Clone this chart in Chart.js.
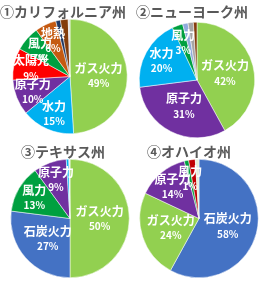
<!DOCTYPE html>
<html lang="ja">
<head>
<meta charset="UTF-8">
<title>州別の電源構成</title>
<script src="https://cdn.jsdelivr.net/npm/chart.js"></script>
<style>
  html, body { margin: 0; padding: 0; background: #fff; }
  #wrap { position: relative; width: 261px; height: 281px; overflow: hidden; }
  #wrap canvas { position: absolute; }
</style>
</head>
<body>
<div id="wrap">
  <canvas id="c1" width="140" height="134" style="left:0;top:0"></canvas>
  <canvas id="c2" width="128" height="138" style="left:133px;top:0"></canvas>
  <canvas id="c3" width="140" height="138" style="left:0;top:140px"></canvas>
  <canvas id="c4" width="124" height="138" style="left:137px;top:140px"></canvas>
</div>
<script>
  // 各州の電源構成 (%)、ラベルなしの小さい区分は '' にしている
  const caTitle = '①カリフォルニア州';
  const caLabels = ['ガス火力', '水力', '原子力', '太陽光', '風力', '地熱', '', '', ''];
  const caValues = [49, 15, 10, 9, 7, 6, 1.3, 2.2, 0.5];

  const nyTitle = '②ニューヨーク州';
  const nyLabels = ['ガス火力', '原子力', '水力', '風力', '', '', ''];
  const nyValues = [42, 31, 20, 3, 1.5, 1.5, 1];

  const txTitle = '③テキサス州';
  const txLabels = ['ガス火力', '石炭火力', '風力', '原子力', '', ''];
  const txValues = [50, 27, 13, 9, 0.7, 0.3];

  const ohTitle = '④オハイオ州';
  const ohLabels = ['石炭火力', 'ガス火力', '原子力', '風力', '', ''];
  const ohValues = [58, 24, 14, 1.2, 1.8, 1];

  const GAS = '#92D050', HYDRO = '#00B0F0', NUC = '#7030A0', SOLAR = '#FF0000',
        WIND = '#00A040', GEO = '#C55A11', COAL = '#4472C4';

  const caColors = [GAS, HYDRO, NUC, SOLAR, WIND, GEO, '#203864', '#843C0C', '#D9D9D9'];
  const nyColors = [GAS, NUC, HYDRO, WIND, '#8FAADC', '#A5A5A5', '#843C0C'];
  const txColors = [GAS, COAL, WIND, NUC, HYDRO, '#E7E6E6'];
  const ohColors = [COAL, GAS, NUC, WIND, '#C00000', '#E2F0D9'];

  const FONT = '"Noto Sans CJK JP", "Noto Sans", sans-serif';

  // 扇形の中にラベル、上にタイトルを描く
  const pieText = {
    id: 'pieText',
    afterDatasetsDraw(chart, args, opts) {
      const ctx = chart.ctx;
      const ds = chart.data.datasets[0];
      const total = ds.data.reduce((a, b) => a + b, 0);
      ctx.save();
      ctx.textAlign = 'center';
      ctx.textBaseline = 'middle';
      ctx.fillStyle = '#fff';
      chart.getDatasetMeta(0).data.forEach((arc, i) => {
        const name = chart.data.labels[i];
        if (!name) return;
        const p = arc.getProps(['x', 'y', 'startAngle', 'endAngle', 'outerRadius'], true);
        const k = ds.data[i] / total > 0.22 ? 0.5 : 0.7;
        const mid = (p.startAngle + p.endAngle) / 2;
        const x = p.x + Math.cos(mid) * p.outerRadius * k;
        const y = p.y + Math.sin(mid) * p.outerRadius * k;
        ctx.font = 'bold 12px ' + FONT;
        ctx.fillText(name, x, y - 7);
        ctx.font = 'bold 10px ' + FONT;
        ctx.fillText(Math.round(ds.data[i]) + '%', x, y + 8);
      });
      ctx.fillStyle = '#595959';
      ctx.font = 'bold 14px ' + FONT;
      ctx.fillText(opts.text, opts.x, opts.y);
      ctx.restore();
    }
  };

  function makePie(id, title, labels, values, colors, top, titleX) {
    new Chart(document.getElementById(id), {
      type: 'pie',
      data: {
        labels: labels,
        datasets: [{
          data: values,
          backgroundColor: colors,
          borderColor: '#fff',
          borderWidth: 0.5
        }]
      },
      options: {
        responsive: false,
        animation: false,
        layout: { padding: { top: top } },
        plugins: {
          legend: { display: false },
          tooltip: { enabled: false },
          pieText: { text: title, x: titleX, y: 12 }
        }
      },
      plugins: [pieText]
    });
  }

  makePie('c1', caTitle, caLabels, caValues, caColors, 19, 63);
  makePie('c2', nyTitle, nyLabels, nyValues, nyColors, 22, 59);
  makePie('c3', txTitle, txLabels, txValues, txColors, 19, 63);
  makePie('c4', ohTitle, ohLabels, ohValues, ohColors, 19, 52);
</script>
</body>
</html>
